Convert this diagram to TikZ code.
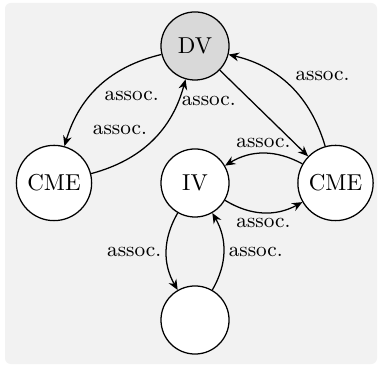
\documentclass[tikz,border=0pt]{standalone}
\usepackage{tikz}
\usetikzlibrary{arrows.meta, positioning}
\definecolor{bglight}{RGB}{242, 242, 242}
\definecolor{dvgray}{RGB}{217, 217, 217}
\tikzset{
  var/.style={circle, draw=black, fill=white, line width=0.55pt,
    minimum size=29.6pt, inner sep=3.3pt, font=\normalsize},
  assoc/.style={-{Stealth[length=4.5pt, width=3.8pt]}, line width=0.55pt,
    bend right=30},
  lbl/.style={font=\small, inner sep=2pt}
}

\begin{document}
\begin{tikzpicture}[x=0.435pt, y=0.435pt]
  \useasboundingbox (0,0) rectangle (378,366);

  % 背景
  \fill[bglight, rounded corners=2.5pt] (5,2) rectangle (377,363);

  % 变量
  \node[var, fill=dvgray] (dv) at (195,320) {DV};
  \node[var] (cmeL) at (54,183) {CME};
  \node[var] (iv) at (195,183) {IV};
  \node[var] (cmeR) at (335.5,183) {CME};
  \node[var] (blank) at (195,46) {};

  % DV 与左侧 CME
  \draw[assoc] (dv) to node[lbl, auto] {assoc.} (cmeL);
  \draw[assoc] (cmeL) to node[lbl, auto] {assoc.} (dv);

  % DV 与右侧 CME
  \draw[-{Stealth[length=4.5pt, width=3.8pt]}, line width=0.55pt]
    (dv) -- node[lbl, pos=0.24, auto, swap] {assoc.} (cmeR);
  \draw[assoc] (cmeR) to node[lbl, auto, swap] {assoc.} (dv);

  % IV 与右侧 CME
  \draw[assoc] (cmeR) to node[lbl, auto, swap] {assoc.} (iv);
  \draw[assoc] (iv) to node[lbl, auto, swap] {assoc.} (cmeR);

  % IV 与下方空节点
  \draw[assoc] (iv) to node[lbl, auto, swap] {assoc.} (blank);
  \draw[assoc] (blank) to node[lbl, auto, swap] {assoc.} (iv);
\end{tikzpicture}
\end{document}
